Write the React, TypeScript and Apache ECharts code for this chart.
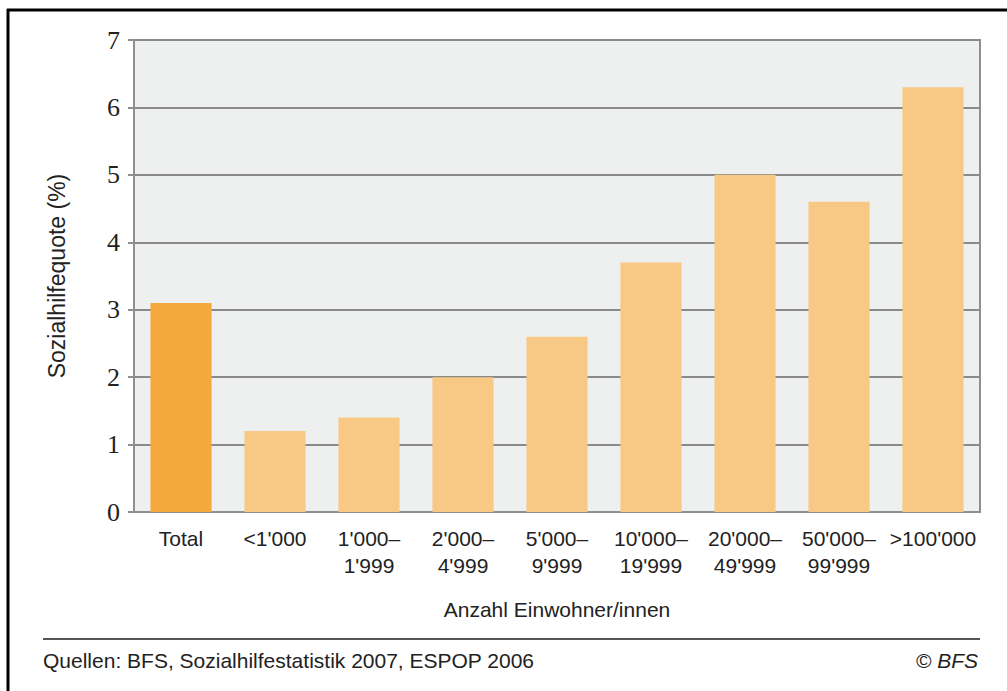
import React, { useEffect, useRef } from "react";
import * as echarts from "echarts";

const categories = [
  "Total",
  "<1'000",
  "1'000–\n1'999",
  "2'000–\n4'999",
  "5'000–\n9'999",
  "10'000–\n19'999",
  "20'000–\n49'999",
  "50'000–\n99'999",
  ">100'000",
];
const values = [3.1, 1.2, 1.4, 2.0, 2.6, 3.7, 5.0, 4.6, 6.3];
const yTicks = [0, 1, 2, 3, 4, 5, 6, 7];

const SANS = "'Liberation Sans', Arial, sans-serif";

export default function App() {
  const ref = useRef<HTMLDivElement>(null);
  useEffect(() => {
    if (!ref.current) return;
    const chart = echarts.init(ref.current, null, { renderer: "svg" });
    chart.setOption({
      animation: false,
      backgroundColor: "#ffffff",
      grid: {
        left: 134,
        top: 40,
        right: 27,
        bottom: 179,
        show: true,
        backgroundColor: "#EEF0EF",
        borderColor: "#8f8f8f",
        borderWidth: 2,
      },
      xAxis: {
        type: "category",
        data: categories,
        name: "Anzahl Einwohner/innen",
        nameLocation: "middle",
        nameGap: 87,
        nameTextStyle: { fontFamily: SANS, fontSize: 21, color: "#222" },
        axisLine: { show: true, lineStyle: { color: "#8f8f8f", width: 2 } },
        axisTick: { show: false },
        axisLabel: {
          interval: 0,
          fontFamily: SANS,
          fontSize: 21,
          lineHeight: 27,
          color: "#222",
          margin: 13,
        },
      },
      yAxis: {
        type: "value",
        min: 0,
        max: 7,
        interval: 1,
        name: "Sozialhilfequote (%)",
        nameLocation: "middle",
        nameGap: 66,
        nameTextStyle: { fontFamily: SANS, fontSize: 23, color: "#222" },
        axisLine: { show: true, lineStyle: { color: "#8f8f8f", width: 2 } },
        axisTick: { show: true, length: 6, lineStyle: { color: "#8f8f8f", width: 2 } },
        splitLine: { show: true, lineStyle: { color: "#8a8a8a", width: 2 } },
        axisLabel: {
          fontFamily: "'Liberation Serif', 'Times New Roman', serif",
          fontSize: 26,
          color: "#222",
          margin: 14,
          formatter: (v: number) => (yTicks.includes(v) ? String(v) : ""),
        },
      },
      series: [
        {
          type: "bar",
          data: values.map((v, i) => ({
            value: v,
            itemStyle: { color: i === 0 ? "#F3A93C" : "#F7C984" },
          })),
          barCategoryGap: "35%",
        },
      ],
      graphic: [
        {
          type: "line",
          shape: { x1: 8, y1: 9, x2: 8, y2: 691 },
          style: { stroke: "#000", lineWidth: 3 },
          silent: true,
        },
        {
          type: "line",
          shape: { x1: 7, y1: 10, x2: 1007, y2: 10 },
          style: { stroke: "#000", lineWidth: 3 },
          silent: true,
        },
        {
          type: "line",
          shape: { x1: 43, y1: 639, x2: 980, y2: 639 },
          style: { stroke: "#555", lineWidth: 2 },
          silent: true,
        },
        {
          type: "text",
          x: 43,
          y: 660,
          style: {
            text: "Quellen: BFS, Sozialhilfestatistik 2007, ESPOP 2006",
            font: `21px ${SANS}`,
            fill: "#222",
            verticalAlign: "middle",
          },
        },
        {
          type: "text",
          x: 978,
          y: 660,
          style: {
            text: "© BFS",
            font: `italic 21px ${SANS}`,
            fill: "#222",
            align: "right",
            verticalAlign: "middle",
          },
        },
      ],
    });
    return () => chart.dispose();
  }, []);
  return (
    <div
      ref={ref}
      style={{ position: "fixed", left: 0, top: 0, width: 1007, height: 691, background: "#fff" }}
    />
  );
}
